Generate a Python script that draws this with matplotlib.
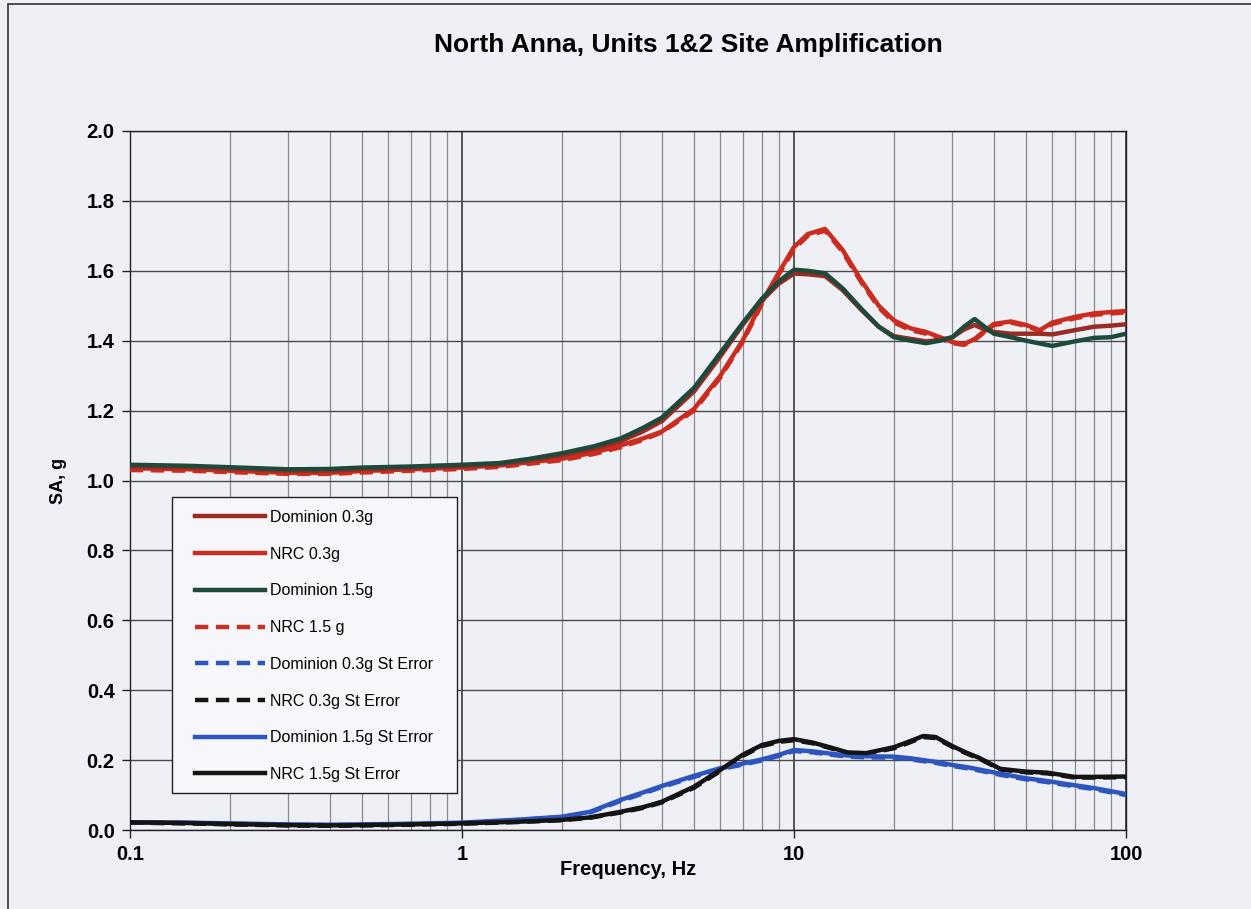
import matplotlib
matplotlib.use("Agg")
import matplotlib.pyplot as plt
from matplotlib.patches import Rectangle

plt.rcParams['font.family'] = ['Liberation Sans', 'DejaVu Sans']

# ---------------- data ----------------
freq_hi = [0.1, 0.15, 0.2, 0.3, 0.4, 0.5, 0.7, 1.0, 1.3, 1.6, 2.0, 2.5, 3.0, 3.5, 4.0,
           5.0, 6.0, 7.0, 8.0, 9.0, 10.0, 11.0, 12.4, 14.0, 16.0, 18.0, 20.0, 22.5,
           25.0, 27.5, 30.0, 32.5, 35.0, 37.5, 40.0, 45.0, 50.0, 55.0, 60.0, 70.0,
           80.0, 90.0, 100.0]

dominion_15 = [1.045, 1.042, 1.038, 1.032, 1.033, 1.037, 1.040, 1.045, 1.050, 1.062, 1.078,
               1.098, 1.120, 1.150, 1.180, 1.265, 1.365, 1.450, 1.520, 1.570, 1.603, 1.600,
               1.593, 1.550, 1.490, 1.440, 1.410, 1.400, 1.393, 1.400, 1.410, 1.440, 1.462,
               1.440, 1.420, 1.410, 1.400, 1.392, 1.385, 1.398, 1.408, 1.410, 1.420]

dominion_03 = [1.040, 1.037, 1.033, 1.028, 1.028, 1.032, 1.036, 1.041, 1.046, 1.057, 1.072,
               1.091, 1.112, 1.140, 1.170, 1.255, 1.355, 1.445, 1.515, 1.563, 1.592, 1.590,
               1.585, 1.545, 1.487, 1.440, 1.413, 1.405, 1.398, 1.402, 1.410, 1.432, 1.445,
               1.432, 1.425, 1.420, 1.420, 1.420, 1.418, 1.430, 1.440, 1.443, 1.447]

nrc_03 = [1.035, 1.032, 1.028, 1.022, 1.022, 1.027, 1.032, 1.037, 1.043, 1.052, 1.062,
          1.080, 1.100, 1.120, 1.140, 1.205, 1.300, 1.400, 1.510, 1.595, 1.668, 1.705,
          1.720, 1.660, 1.570, 1.500, 1.458, 1.435, 1.425, 1.410, 1.396, 1.390, 1.405,
          1.428, 1.448, 1.455, 1.445, 1.430, 1.452, 1.468, 1.478, 1.482, 1.485]

nrc_15 = [1.030, 1.028, 1.024, 1.019, 1.019, 1.023, 1.028, 1.033, 1.039, 1.048, 1.058,
          1.076, 1.095, 1.116, 1.138, 1.200, 1.295, 1.396, 1.505, 1.590, 1.662, 1.700,
          1.715, 1.655, 1.565, 1.495, 1.452, 1.430, 1.420, 1.406, 1.393, 1.388, 1.402,
          1.425, 1.445, 1.452, 1.442, 1.428, 1.448, 1.464, 1.474, 1.478, 1.481]

freq_lo = [0.1, 0.15, 0.2, 0.3, 0.4, 0.5, 0.7, 1.0, 1.5, 2.0, 2.43, 3.0, 3.5, 4.0, 5.0,
           6.0, 7.0, 8.0, 9.0, 10.0, 11.4, 13.0, 14.5, 16.5, 20.0, 22.5, 24.5, 26.7,
           30.0, 33.1, 36.2, 41.8, 50.0, 58.0, 70.0, 80.0, 100.0]

nrc_15_se = [0.022, 0.020, 0.017, 0.014, 0.013, 0.014, 0.016, 0.019, 0.024, 0.029, 0.036,
             0.052, 0.065, 0.081, 0.124, 0.172, 0.215, 0.243, 0.255, 0.260, 0.250, 0.235,
             0.222, 0.220, 0.237, 0.255, 0.269, 0.266, 0.240, 0.221, 0.206, 0.175, 0.167,
             0.164, 0.152, 0.152, 0.153]

nrc_03_se = [0.021, 0.019, 0.016, 0.013, 0.012, 0.013, 0.015, 0.018, 0.023, 0.028, 0.035,
             0.050, 0.063, 0.079, 0.121, 0.169, 0.212, 0.240, 0.252, 0.257, 0.248, 0.233,
             0.220, 0.218, 0.234, 0.252, 0.266, 0.263, 0.238, 0.219, 0.204, 0.173, 0.165,
             0.162, 0.150, 0.150, 0.151]

dominion_15_se = [0.022, 0.021, 0.019, 0.016, 0.015, 0.016, 0.018, 0.021, 0.030, 0.038, 0.052,
                  0.086, 0.107, 0.126, 0.155, 0.177, 0.190, 0.202, 0.215, 0.229, 0.225, 0.218,
                  0.213, 0.211, 0.210, 0.205, 0.200, 0.195, 0.186, 0.180, 0.173, 0.161, 0.148,
                  0.140, 0.128, 0.120, 0.103]

dominion_03_se = [0.021, 0.020, 0.018, 0.015, 0.014, 0.015, 0.017, 0.020, 0.029, 0.037, 0.050,
                  0.083, 0.104, 0.123, 0.152, 0.174, 0.187, 0.199, 0.212, 0.226, 0.222, 0.215,
                  0.210, 0.208, 0.207, 0.202, 0.197, 0.192, 0.183, 0.177, 0.170, 0.158, 0.145,
                  0.137, 0.125, 0.117, 0.100]

labels = ["Dominion 0.3g", "NRC 0.3g", "Dominion 1.5g", "NRC 1.5 g",
          "Dominion 0.3g St Error", "NRC 0.3g St Error", "Dominion 1.5g St Error",
          "NRC 1.5g St Error"]

x_ticks = [0.1, 1, 10, 100]
x_ticklabels = ["0.1", "1", "10", "100"]
y_ticks = [0.0, 0.2, 0.4, 0.6, 0.8, 1.0, 1.2, 1.4, 1.6, 1.8, 2.0]

# ---------------- figure ----------------
W, H = 1251, 909
bg = '#eff0f6'
fig = plt.figure(figsize=(W / 100, H / 100), dpi=100, facecolor=bg)
AX_L, AX_R, AX_T, AX_B = 130, 1126, 131, 830
aw, ah = AX_R - AX_L, AX_B - AX_T
ax = fig.add_axes([AX_L / W, (H - AX_B) / H, aw / W, ah / H], facecolor=bg)

# outer frame (left/top visible)
fig.patches.append(Rectangle((8 / W, -0.02), 1.5, 1 - 4 / H + 0.02, transform=fig.transFigure,
                             fill=False, edgecolor='#333333', lw=1.2))

lw = 3.2
c_dom03 = '#9a2a24'
c_nrc03 = '#cc2b1f'
c_dom15 = '#1d4a3b'
c_nrc15 = '#c9301f'
c_blue = '#2d55c0'
c_black = '#141414'
dash = (3.0, 1.7)

l4, = ax.plot(freq_hi, nrc_15, color=c_nrc15, lw=lw, dashes=dash, label=labels[3], zorder=3)
l2, = ax.plot(freq_hi, nrc_03, color=c_nrc03, lw=lw, label=labels[1], zorder=4)
l1, = ax.plot(freq_hi, dominion_03, color=c_dom03, lw=lw, label=labels[0], zorder=4)
l3, = ax.plot(freq_hi, dominion_15, color=c_dom15, lw=lw, label=labels[2], zorder=5)

l5, = ax.plot(freq_lo, dominion_03_se, color=c_blue, lw=lw, dashes=dash, label=labels[4], zorder=3)
l6, = ax.plot(freq_lo, nrc_03_se, color=c_black, lw=lw, dashes=dash, label=labels[5], zorder=3)
l7, = ax.plot(freq_lo, dominion_15_se, color=c_blue, lw=lw, label=labels[6], zorder=4)
l8, = ax.plot(freq_lo, nrc_15_se, color=c_black, lw=lw, label=labels[7], zorder=5)

ax.set_xscale('log')
ax.set_xlim(0.1, 100)
ax.set_ylim(0, 2.0)
ax.set_xticks(x_ticks)
ax.set_xticklabels(x_ticklabels)
ax.set_yticks(y_ticks)
ax.set_yticklabels([f"{v:.1f}" for v in y_ticks])

ax.grid(True, which='major', axis='y', color='#4a4a4a', lw=1.0)
ax.grid(True, which='major', axis='x', color='#2a2a2a', lw=1.1)
ax.grid(True, which='minor', axis='x', color='#8a8a8a', lw=0.9)
ax.set_axisbelow(True)
ax.tick_params(axis='x', which='minor', length=0)
ax.tick_params(axis='both', which='major', length=6, width=1.0, color='#222222',
               labelsize=14.5, pad=5)
for t in ax.get_xticklabels() + ax.get_yticklabels():
    t.set_fontweight('bold')
for s in ax.spines.values():
    s.set_color('#222222')
    s.set_linewidth(1.0)

ax.set_xlabel("Frequency, Hz", fontsize=14.5, fontweight='bold', labelpad=-3)
ax.set_ylabel("SA, g", fontsize=13, fontweight='bold', labelpad=14)
fig.text(688 / W, 1 - 45 / H, "North Anna, Units 1&2 Site Amplification",
         ha='center', va='center', fontsize=19, fontweight='bold')

# legend frame drawn separately so entries can sit inset like the reference
LX0, LX1, LY0, LY1 = 172, 457, 497, 793
ax.add_patch(Rectangle(((LX0 - AX_L) / aw, (AX_B - LY1) / ah), (LX1 - LX0) / aw,
                       (LY1 - LY0) / ah, transform=ax.transAxes, facecolor='#f7f7fb',
                       edgecolor='#222222', lw=1.0, zorder=9))

handles = [l1, l2, l3, l4, l5, l6, l7, l8]
leg = ax.legend(handles=handles, labels=labels, loc='upper left',
                bbox_to_anchor=((195 - AX_L) / aw, (AX_B - 510) / ah), fontsize=11.5,
                frameon=False, handlelength=4.4, handletextpad=0.3, labelspacing=1.36,
                borderpad=0, borderaxespad=0)
leg.set_zorder(10)

fig.savefig("out.png", dpi=100, facecolor=bg)
